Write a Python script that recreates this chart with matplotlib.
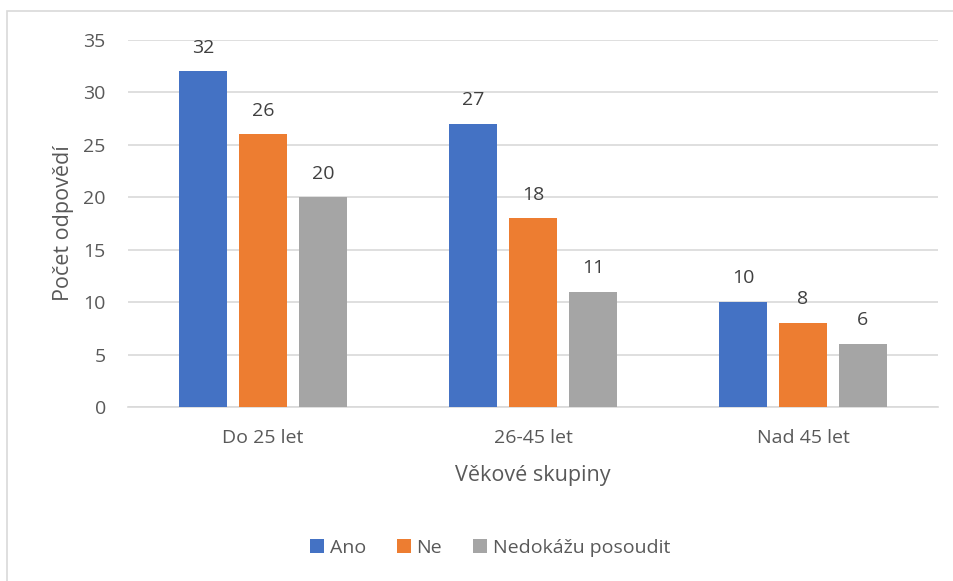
import matplotlib
matplotlib.use("Agg")
import matplotlib.pyplot as plt
import numpy as np
from matplotlib.patches import Rectangle

categories = ["Do 25 let", "26-45 let", "Nad 45 let"]
series_names = ["Ano", "Ne", "Nedokážu posoudit"]
ano = [32, 27, 10]
ne = [26, 18, 8]
nedokazu = [20, 11, 6]
colors = ["#4472C4", "#ED7D31", "#A5A5A5"]

plt.rcParams['font.family'] = ['Open Sans', 'DejaVu Sans']
txt = "#595959"

W, H = 954, 581
fig = plt.figure(figsize=(W/100, H/100), dpi=100)
ax = fig.add_axes([128/W, 1-407/H, 810/W, 367/H])

# outer chart border
fig.patches.append(Rectangle((7/W, -0.1), 1.1, 1-11/H+0.1, transform=fig.transFigure,
                             fill=False, edgecolor="#D9D9D9", lw=1.2))

x = np.arange(len(categories))
bw = 48/270
step = 60/270
for i, (vals, name, c) in enumerate(zip([ano, ne, nedokazu], series_names, colors)):
    pos = x + (i-1)*step
    ax.bar(pos, vals, bw, color=c, label=name, zorder=3)
    for p, v in zip(pos, vals):
        ax.text(p, v + 1.4, str(v), ha="center", va="bottom", fontsize=14, color="#404040")

ax.set_xlim(-0.5, 2.5)
ax.set_ylim(0, 35)
ax.set_yticks(range(0, 36, 5))
ax.set_xticks(x)
ax.set_xticklabels(categories)
ax.yaxis.grid(True, color="#D9D9D9", lw=1.2, zorder=0)
ax.set_axisbelow(True)
for s in ["top", "right", "left"]:
    ax.spines[s].set_visible(False)
ax.spines["bottom"].set_color("#D9D9D9")
ax.spines["bottom"].set_linewidth(1.2)
ax.tick_params(axis="both", length=0, labelsize=14, colors=txt)
ax.tick_params(axis="y", pad=16)
ax.tick_params(axis="x", pad=16)
ax.set_xlabel("Věkové skupiny", fontsize=15.5, color=txt, labelpad=13)
ax.set_ylabel("Počet odpovědí", fontsize=15.5, color=txt, labelpad=7)

fig.legend(loc="center", bbox_to_anchor=(490/W, 1-548/H), ncol=3, frameon=False,
           fontsize=14, handlelength=0.7, handleheight=0.7, handletextpad=0.3,
           columnspacing=1.6, labelcolor=txt)

fig.savefig("out.png", dpi=100)
